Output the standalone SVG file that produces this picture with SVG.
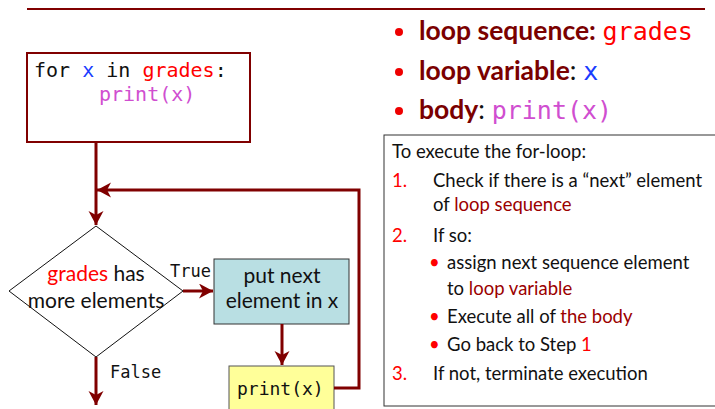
<svg xmlns="http://www.w3.org/2000/svg" width="715" height="409" viewBox="0 0 715 409">
<style>
.mono{font-family:"DejaVu Sans Mono","Liberation Mono",monospace}
.sans{font-family:Lato,"Open Sans","Liberation Sans",sans-serif}
.conn{fill:none;stroke:#800000;stroke-width:3}
.box{font-size:18.5px;fill:#111}
.red{fill:#ff0000}
.dred{fill:#9b0000}
.mag{fill:#d04ed0}
.blue{fill:#1a3cff}
</style>
<defs>
<marker id="ah" markerUnits="userSpaceOnUse" markerWidth="16" markerHeight="16" refX="14" refY="7.5" orient="auto">
<path d="M0,0 L14,7.5 L0,15 L4,7.5 z" fill="#800000"/>
</marker>
</defs>
<rect width="715" height="409" fill="#fff"/>
<line x1="27" y1="9" x2="705" y2="9" stroke="#800000" stroke-width="2"/>

<g id="for-box">
<rect x="27" y="53" width="223" height="89" fill="#fff" stroke="#800000" stroke-width="2"/>
<text class="mono" x="34" y="77" font-size="20" fill="#111">for <tspan class="blue">x</tspan> in <tspan class="red">grades</tspan>:</text>
<text class="mono mag" x="99" y="101" font-size="20">print(x)</text>
</g>

<g id="decision">
<polygon points="96,226 183,291 96,357 9,291" fill="#fff" stroke="#111" stroke-width="1"/>
<text class="sans" x="96" y="281" font-size="21" text-anchor="middle" fill="#111"><tspan class="red">grades</tspan> has</text>
<text class="sans" x="96" y="308" font-size="21" text-anchor="middle" fill="#111">more elements</text>
</g>

<g id="put-next">
<rect x="214" y="259" width="135" height="65" fill="#b9dfe3" stroke="#333" stroke-width="1"/>
<text class="sans" x="282" y="283" font-size="21" text-anchor="middle" fill="#111">put next</text>
<text class="sans" x="282" y="308" font-size="21" text-anchor="middle" fill="#111">element in x</text>
</g>

<g id="print-box">
<rect x="229" y="366" width="105" height="48" fill="#ffff99" stroke="#555" stroke-width="1"/>
<text class="mono" x="237" y="395" font-size="18" fill="#111">print(x)</text>
</g>

<g id="connectors">
<line class="conn" x1="96" y1="142" x2="96" y2="225" marker-end="url(#ah)"/>
<polyline class="conn" points="334,388 359,388 359,190 97,190" marker-end="url(#ah)"/>
<line class="conn" x1="183" y1="291" x2="213" y2="291" marker-end="url(#ah)"/>
<line class="conn" x1="282" y1="324" x2="282" y2="365" marker-end="url(#ah)"/>
<line class="conn" x1="96" y1="357" x2="96" y2="405" marker-end="url(#ah)"/>
<text class="mono" x="170" y="277" font-size="17" fill="#111">True</text>
<text class="mono" x="110" y="378" font-size="17" fill="#111">False</text>
</g>

<g id="summary">
<circle cx="399" cy="32" r="4" fill="#ee0000"/>
<circle cx="399" cy="72" r="4" fill="#ee0000"/>
<circle cx="399" cy="111" r="4" fill="#ee0000"/>
<text x="419" y="40" font-size="26.5" fill="#7a0000"><tspan class="sans" font-weight="bold">loop sequence:</tspan> <tspan class="mono red" font-size="25">grades</tspan></text>
<text x="419" y="80" font-size="26.5" fill="#7a0000"><tspan class="sans" font-weight="bold">loop variable</tspan><tspan class="sans" fill="#111">: </tspan><tspan class="mono blue" font-size="25">x</tspan></text>
<text x="419" y="119" font-size="26.5" fill="#7a0000"><tspan class="sans" font-weight="bold">body</tspan><tspan class="sans" fill="#111">: </tspan><tspan class="mono mag" font-size="25">print(x)</tspan></text>
</g>

<g id="steps">
<rect x="384" y="135" width="340" height="271" fill="#fff" stroke="#333" stroke-width="1"/>
<text class="sans box" x="392" y="158">To execute the for-loop:</text>
<text class="sans box red" x="392" y="187">1.</text>
<text class="sans box" x="433" y="187">Check if there is a “next” element</text>
<text class="sans box" x="433" y="211">of <tspan class="dred">loop sequence</tspan></text>
<text class="sans box red" x="392" y="242">2.</text>
<text class="sans box" x="433" y="242">If so:</text>
<text class="sans box red" x="429" y="269" font-size="14">•</text>
<text class="sans box" x="447" y="269">assign next sequence element</text>
<text class="sans box" x="447" y="295">to <tspan class="dred">loop variable</tspan></text>
<text class="sans box red" x="429" y="323" font-size="14">•</text>
<text class="sans box" x="447" y="323">Execute all of <tspan class="dred">the body</tspan></text>
<text class="sans box red" x="429" y="351" font-size="14">•</text>
<text class="sans box" x="447" y="351">Go back to Step <tspan class="red">1</tspan></text>
<text class="sans box red" x="392" y="380">3.</text>
<text class="sans box" x="433" y="380">If not, terminate execution</text>
</g>
</svg>
